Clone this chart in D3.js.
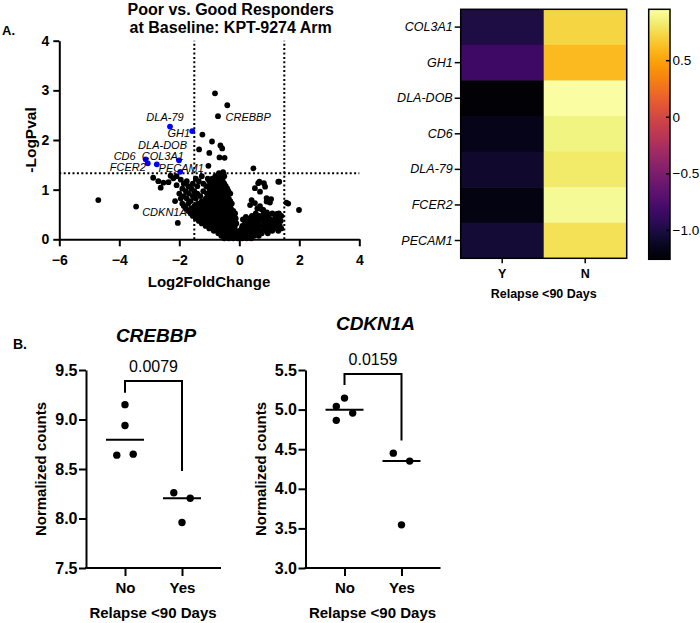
<!DOCTYPE html>
<html><head><meta charset="utf-8">
<script src="https://cdn.jsdelivr.net/npm/d3@7"></script>
<style>body{margin:0;background:#fff}</style>
</head><body><svg id="c" width="700" height="623"></svg>
<script>
// ---------------- DATA ----------------
const volcanoTitle = ["Poor vs. Good Responders", "at Baseline: KPT-9274 Arm"];
const volcanoXTicks = [-6, -4, -2, 0, 2, 4];
const volcanoYTicks = [0, 1, 2, 3, 4];
const lfcCutoffs = [-1.5, 1.5];
const pvalCutoff = 1.33;
// highlighted (blue) genes
const blueGenes = ["DLA-79", "GH1", "DLA-DOB", "COL3A1", "CD6", "FCER2", "PECAM1"];
const blueLFC   = [-2.31, -1.57, -2.01, -2.75, -3.12, -3.05, -1.97];
const blueLogP  = [2.27, 2.18, 1.59, 1.51, 1.61, 1.53, 1.36];
// labelled black genes
const blackGenes = ["CREBBP", "CDKN1A"];
const blackLFC   = [-0.71, -2.05];
const blackLogP  = [2.48, 0.33];
// all other genes [log2FC, -logP]
const volcanoPoints = [
[-4.70,0.79],[-3.44,0.66],[-2.14,0.77],[-0.81,2.94],[-0.40,2.70],[-1.23,2.11],[-0.91,1.97],[-1.34,1.81],
[-0.63,1.89],[-0.57,1.83],[-1.00,1.74],[-0.66,1.65],[-0.49,1.64],[-1.03,1.48],[0.47,1.43],[-0.54,1.35],
[1.33,1.16],[1.63,0.72],[1.99,0.59],[0.67,1.16],[0.82,1.13],[0.52,1.03],[0.91,0.83],[1.06,0.81],[1.25,0.51],
[1.33,0.48],[0.41,0.79],[0.52,0.73],[0.69,0.67],[0.80,0.59],[0.97,0.49],[1.08,0.39],[1.19,0.25],[0.92,0.54],
[0.72,0.40],[0.85,0.27],[0.36,0.69],[1.02,0.74],[0.63,1.13],[0.86,1.06],[0.69,0.96],[1.30,1.16],[1.57,0.74],
[0.91,0.76],[0.60,0.62],[0.75,0.60],
[-2.87,1.24],[-2.70,1.17],[-2.53,1.14],[-2.36,1.15],[-2.20,1.23],[-2.09,1.27],[-2.29,1.28],[-2.62,1.04],
[-2.09,1.09],[-1.95,1.20],[-1.85,1.12],[-1.90,1.02],
[-0.50,0.02],[-0.35,0.02],[-0.20,0.02],[-0.05,0.02],[0.10,0.02],[0.25,0.02],[0.40,0.02],
[-0.60,0.07],[-0.45,0.07],[-0.30,0.07],[-0.15,0.07],[0.00,0.07],[0.15,0.07],[0.30,0.07],[0.50,0.07],[0.65,0.07],
[-0.70,0.12],[-0.55,0.12],[-0.40,0.12],[-0.25,0.12],[-0.10,0.12],[0.05,0.12],[0.20,0.12],[0.38,0.12],[0.55,0.12],[0.75,0.12],[0.95,0.12],
[-0.85,0.17],[-0.68,0.17],[-0.50,0.17],[-0.35,0.17],[-0.18,0.17],[0.00,0.17],[0.15,0.17],[0.32,0.17],[0.50,0.17],[0.70,0.17],[0.90,0.17],[1.10,0.17],[1.30,0.17],
[-1.00,0.22],[-0.82,0.22],[-0.64,0.22],[-0.48,0.22],[-0.32,0.22],[-0.16,0.22],[0.08,0.22],[0.25,0.22],[0.42,0.22],[0.62,0.22],[0.85,0.22],[1.05,0.22],[1.25,0.22],[1.40,0.22],
[-1.12,0.27],[-0.95,0.27],[-0.78,0.27],[-0.60,0.27],[-0.45,0.27],[-0.30,0.27],[-0.15,0.27],[0.10,0.27],[0.30,0.27],[0.50,0.27],[0.72,0.27],[0.95,0.27],[1.15,0.27],[1.35,0.27],
[-1.25,0.32],[-1.08,0.32],[-0.90,0.32],[-0.73,0.32],[-0.56,0.32],[-0.40,0.32],[-0.24,0.32],[-0.10,0.32],[0.20,0.32],[0.38,0.32],[0.60,0.32],[0.82,0.32],[1.02,0.32],[1.28,0.32],
[-1.35,0.37],[-1.18,0.37],[-1.00,0.37],[-0.83,0.37],[-0.66,0.37],[-0.50,0.37],[-0.34,0.37],[-0.18,0.37],[0.25,0.37],[0.45,0.37],[0.65,0.37],[0.88,0.37],[1.15,0.37],[1.38,0.37],
[-1.45,0.42],[-1.28,0.42],[-1.10,0.42],[-0.92,0.42],[-0.75,0.42],[-0.58,0.42],[-0.42,0.42],[-0.26,0.42],[-0.12,0.42],[0.35,0.42],[0.55,0.42],[0.78,0.42],[1.00,0.42],[1.25,0.42],
[-1.55,0.47],[-1.38,0.47],[-1.20,0.47],[-1.02,0.47],[-0.85,0.47],[-0.68,0.47],[-0.50,0.47],[-0.34,0.47],[-0.18,0.47],[0.42,0.47],[0.68,0.47],[0.92,0.47],[1.20,0.47],[1.40,0.47],
[-1.62,0.52],[-1.45,0.52],[-1.28,0.52],[-1.10,0.52],[-0.93,0.52],[-0.76,0.52],[-0.60,0.52],[-0.44,0.52],[-0.28,0.52],[-0.14,0.52],[0.55,0.52],[0.82,0.52],[1.10,0.52],[1.32,0.52],
[-1.70,0.57],[-1.52,0.57],[-1.35,0.57],[-1.18,0.57],[-1.00,0.57],[-0.84,0.57],[-0.68,0.57],[-0.52,0.57],[-0.36,0.57],[-0.20,0.57],
[-1.78,0.62],[-1.60,0.62],[-1.42,0.62],[-1.25,0.62],[-1.08,0.62],[-0.92,0.62],[-0.76,0.62],[-0.60,0.62],[-0.44,0.62],[-0.28,0.62],
[-1.85,0.67],[-1.50,0.67],[-1.30,0.67],[-1.12,0.67],[-0.96,0.67],[-0.80,0.67],[-0.64,0.67],[-0.48,0.67],[-0.32,0.67],
[-1.90,0.72],[-1.70,0.72],[-1.38,0.72],[-1.18,0.72],[-1.00,0.72],[-0.85,0.72],[-0.70,0.72],[-0.55,0.72],[-0.40,0.72],[-0.25,0.72],
[-1.62,0.77],[-1.25,0.77],[-1.05,0.77],[-0.90,0.77],[-0.75,0.77],[-0.60,0.77],[-0.45,0.77],[-0.30,0.77],
[-1.95,0.82],[-1.75,0.82],[-1.45,0.82],[-1.12,0.82],[-0.95,0.82],[-0.80,0.82],[-0.65,0.82],[-0.50,0.82],[-0.35,0.82],
[-1.85,0.87],[-1.55,0.87],[-1.30,0.87],[-1.00,0.87],[-0.85,0.87],[-0.70,0.87],[-0.55,0.87],[-0.40,0.87],
[-2.00,0.92],[-1.68,0.92],[-1.40,0.92],[-1.08,0.92],[-0.90,0.92],[-0.75,0.92],[-0.60,0.92],[-0.45,0.92],[-0.30,0.92],
[-1.78,0.97],[-1.50,0.97],[-1.20,0.97],[-0.95,0.97],[-0.80,0.97],[-0.65,0.97],[-0.50,0.97],[-0.36,0.97],
[-1.60,1.02],[-1.00,1.02],[-0.85,1.02],[-0.70,1.02],[-0.55,1.02],[-0.40,1.02],
[-1.70,1.07],[-1.40,1.07],[-1.10,1.07],[-0.90,1.07],[-0.75,1.07],[-0.60,1.07],[-0.45,1.07],
[-1.55,1.12],[-1.20,1.12],[-0.95,1.12],[-0.80,1.12],[-0.65,1.12],[-0.50,1.12],
[-1.75,1.17],[-1.35,1.17],[-1.00,1.17],[-0.85,1.17],[-0.70,1.17],[-0.55,1.17],
[-1.45,1.22],[-1.05,1.22],[-0.90,1.22],[-0.72,1.22],[-0.58,1.22],
[-1.25,1.27],[-0.80,1.27],[-0.62,1.27],[-0.50,1.27],
[-0.68,1.33],[-0.55,1.33],
[0.18,0.30],[0.30,0.36],[0.12,0.40],[0.22,0.45]
];

// heatmap
const hmGenes = ["COL3A1", "GH1", "DLA-DOB", "CD6", "DLA-79", "FCER2", "PECAM1"];
const hmGroups = ["Y", "N"];
const hmValuesY = [-1.00, -0.84, -1.24, -1.16, -1.08, -1.19, -1.05];
const hmValuesN = [0.72, 0.60, 0.94, 0.87, 0.82, 0.91, 0.77];
const colorDomain = [-1.26, 0.95];
const colorbarTicks = [0.5, 0, -0.5, -1.0];
const heatmapXLabel = "Relapse <90 Days";

// panel B
const groups = ["No", "Yes"];
const crebbpNo = [9.15, 8.94, 8.64, 8.65];
const crebbpYes = [8.26, 8.205, 7.96];
const crebbpNoJitter = [0, 0, -1, 1];
const crebbpYesJitter = [-1, 1, 0];
const crebbpTicks = [7.5, 8.0, 8.5, 9.0, 9.5];
const crebbpP = "0.0079";
const crebbpBracket = [9.39, 9.27, 8.48]; // top, left leg end, right leg end
const cdknNo = [5.145, 5.04, 4.956, 4.864];
const cdknYes = [4.45, 4.35, 3.545];
const cdknNoJitter = [0, -1, 1, -1];
const cdknYesJitter = [-1, 1, 0];
const cdknTicks = [3.0, 3.5, 4.0, 4.5, 5.0, 5.5];
const cdknP = "0.0159";
const cdknBracket = [5.45, 5.31, 4.61];

// ---------------- DRAWING ----------------
const FONT = "'Liberation Sans', Arial, Helvetica, sans-serif";
const svg = d3.select("#c").style("font-family", FONT);

function styleAxis(g, size, weight) {
  g.attr("font-family", FONT).attr("font-size", size);
  g.selectAll("path.domain").attr("stroke", "#000").attr("stroke-width", 2);
  g.selectAll(".tick line").attr("stroke", "#000").attr("stroke-width", 2);
  g.selectAll(".tick text").attr("fill", "#000").attr("font-weight", weight);
}
function text(g, x, y, s, o) {
  o = o || {};
  return g.append("text").attr("x", x).attr("y", y).text(s)
    .attr("font-size", o.size || 14).attr("font-weight", o.weight || "normal")
    .attr("font-style", o.style || "normal").attr("text-anchor", o.anchor || "start")
    .attr("fill", "#000");
}

// ===== Panel A: volcano =====
const vx = d3.scaleLinear().domain([-6, 4]).range([59.3, 359.3]);
const vy = d3.scaleLinear().domain([0, 4]).range([239.3, 40.7]);
const gA = svg.append("g");

text(gA, 2, 35, "A.", {size: 13, weight: "bold"});
volcanoTitle.forEach((t, i) => text(gA, 230.7, 15 + i * 18, t, {size: 16, weight: "bold", anchor: "middle"}));

// dotted cut-off lines
lfcCutoffs.forEach(c => gA.append("line").attr("x1", vx(c)).attr("x2", vx(c)).attr("y1", vy(0)).attr("y2", vy(4))
  .attr("stroke", "#000").attr("stroke-width", 2).attr("stroke-dasharray", "2,2.4"));
gA.append("line").attr("x1", vx(-6)).attr("x2", vx(4)).attr("y1", vy(pvalCutoff)).attr("y2", vy(pvalCutoff))
  .attr("stroke", "#000").attr("stroke-width", 2).attr("stroke-dasharray", "2,2.4");

const R = 2.9;
gA.append("g").selectAll("circle").data(volcanoPoints).join("circle")
  .attr("cx", d => vx(d[0])).attr("cy", d => vy(d[1])).attr("r", R).attr("fill", "#000");
gA.append("g").selectAll("circle").data(blackGenes).join("circle")
  .attr("cx", (d, i) => vx(blackLFC[i])).attr("cy", (d, i) => vy(blackLogP[i])).attr("r", R).attr("fill", "#000");
gA.append("g").selectAll("circle").data(blueGenes).join("circle")
  .attr("cx", (d, i) => vx(blueLFC[i])).attr("cy", (d, i) => vy(blueLogP[i])).attr("r", R).attr("fill", "#0000ff");

// gene labels (pixel offsets from their dot)
const labelOffsets = {
  "DLA-79": [-5, -6, "middle"], "GH1": [-2, 5.5, "end"], "DLA-DOB": [8, -11.5, "end"],
  "COL3A1": [6, -4, "middle"], "CD6": [-10, 1, "end"], "FCER2": [-2, 8, "end"],
  "PECAM1": [1, -0.2, "middle"], "CREBBP": [7.5, 4.5, "start"], "CDKN1A": [9, -7, "end"]
};
const gl = gA.append("g");
blueGenes.forEach((g, i) => {
  const o = labelOffsets[g];
  text(gl, vx(blueLFC[i]) + o[0], vy(blueLogP[i]) + o[1], g, {size: 11, style: "italic", anchor: o[2]});
});
blackGenes.forEach((g, i) => {
  const o = labelOffsets[g];
  text(gl, vx(blackLFC[i]) + o[0], vy(blackLogP[i]) + o[1], g, {size: 11, style: "italic", anchor: o[2]});
});

const axX = gA.append("g").attr("transform", `translate(0,${vy(0)})`)
  .call(d3.axisBottom(vx).tickValues(volcanoXTicks).tickSize(7).tickSizeOuter(0).tickPadding(9).tickFormat(d3.format("d")));
styleAxis(axX, 14, "bold");
const axY = gA.append("g").attr("transform", `translate(${vx(-6)},0)`)
  .call(d3.axisLeft(vy).tickValues(volcanoYTicks).tickSize(6).tickSizeOuter(0).tickPadding(4).tickFormat(d3.format("d")));
styleAxis(axY, 14, "bold");
text(gA, 209, 287, "Log2FoldChange", {size: 15, weight: "bold", anchor: "middle"});
text(gA, 0, 0, "-LogPval", {size: 15.5, weight: "bold", anchor: "middle"})
  .attr("transform", `translate(36,${vy(2)}) rotate(-90)`);

// ===== Heatmap =====
const color = d3.scaleSequential(d3.interpolateInferno).domain(colorDomain);
const hx = d3.scaleBand().domain(hmGroups).range([460.7, 626.7]);
const hy = d3.scaleBand().domain(hmGenes).range([9.3, 258.3]);
const gH = svg.append("g");
const cells = [];
hmGenes.forEach((g, i) => { cells.push({g, c: "Y", v: hmValuesY[i]}); cells.push({g, c: "N", v: hmValuesN[i]}); });
gH.selectAll("rect.cell").data(cells).join("rect").attr("class", "cell")
  .attr("x", d => hx(d.c)).attr("y", d => hy(d.g)).attr("width", hx.bandwidth() + 0.5).attr("height", hy.bandwidth() + 0.5)
  .attr("fill", d => color(d.v));
gH.append("rect").attr("x", 460.7).attr("y", 9.3).attr("width", 166).attr("height", 249)
  .attr("fill", "none").attr("stroke", "#000").attr("stroke-width", 1.5);
const hAxL = gH.append("g").attr("transform", "translate(460.7,0)")
  .call(d3.axisLeft(hy).tickSize(6).tickPadding(2).tickSizeOuter(0));
styleAxis(hAxL, 12.5, "normal");
hAxL.select("path.domain").remove();
hAxL.selectAll(".tick text").attr("font-style", "italic");
hAxL.selectAll(".tick line").attr("stroke-width", 1.5);
const hAxB = gH.append("g").attr("transform", "translate(0,258.3)")
  .call(d3.axisBottom(hx).tickSize(5).tickPadding(6).tickSizeOuter(0));
styleAxis(hAxB, 12.5, "bold");
hAxB.select("path.domain").remove();
hAxB.selectAll(".tick line").attr("stroke-width", 1.5);
text(gH, 543.7, 297.5, heatmapXLabel, {size: 12.5, weight: "bold", anchor: "middle"});

// colorbar
const cbY = d3.scaleLinear().domain(colorDomain).range([259.3, 9.3]);
const defs = svg.append("defs");
const grad = defs.append("linearGradient").attr("id", "cb").attr("x1", 0).attr("y1", 1).attr("x2", 0).attr("y2", 0);
d3.range(0, 1.0001, 0.05).forEach(t => grad.append("stop").attr("offset", t)
  .attr("stop-color", color(colorDomain[0] + t * (colorDomain[1] - colorDomain[0]))));
gH.append("rect").attr("x", 648.7).attr("y", 9.3).attr("width", 21.3).attr("height", 250)
  .attr("fill", "url(#cb)").attr("stroke", "#000").attr("stroke-width", 1.5);
const cbAx = gH.append("g").attr("transform", "translate(670,0)")
  .call(d3.axisRight(cbY).tickValues(colorbarTicks).tickSizeInner(-4).tickSizeOuter(0).tickPadding(2.5)
    .tickFormat(d => d === 0 ? "0" : d3.format(".1f")(d)));
styleAxis(cbAx, 13.5, "normal");
cbAx.select("path.domain").remove();
cbAx.selectAll(".tick line").attr("stroke-width", 1.5);

// ===== Panel B =====
text(svg, 13, 349, "B.", {size: 14, weight: "bold"});

function dotPanel(left, title, titleY, dom, ticks, noVals, yesVals, noJ, yesJ, bracket, pText) {
  const g = svg.append("g");
  const y = d3.scaleLinear().domain(dom).range([568, 370]);
  const x = d3.scalePoint().domain(groups).range([left + 39, left + 96]);
  text(g, left + 70, titleY, title, {size: 19, weight: "bold", style: "italic", anchor: "middle"});
  // axes
  const ay = g.append("g").attr("transform", `translate(${left},0)`)
    .call(d3.axisLeft(y).tickValues(ticks).tickSize(7).tickSizeOuter(0).tickPadding(1.5).tickFormat(d3.format(".1f")));
  styleAxis(ay, 16, "bold");
  g.append("line").attr("x1", left - 1).attr("x2", left + 135).attr("y1", 568).attr("y2", 568)
    .attr("stroke", "#000").attr("stroke-width", 2);
  const ax = g.append("g").attr("transform", `translate(0,568)`)
    .call(d3.axisBottom(x).tickSize(8).tickPadding(6).tickSizeOuter(0));
  styleAxis(ax, 15, "bold");
  ax.select("path.domain").remove();
  text(g, left + 67, 617.5, "Relapse <90 Days", {size: 15, weight: "bold", anchor: "middle"});
  text(g, 0, 0, "Normalized counts", {size: 15, weight: "bold", anchor: "middle"})
    .attr("transform", `translate(${left - 40},${y((dom[0] + dom[1]) / 2)}) rotate(-90)`);
  // points
  const J = 8.2;
  [[noVals, noJ, "No"], [yesVals, yesJ, "Yes"]].forEach(([vals, jit, grp]) => {
    g.append("g").selectAll("circle").data(vals).join("circle")
      .attr("cx", (d, i) => x(grp) + jit[i] * J).attr("cy", d => y(d)).attr("r", 3.7).attr("fill", "#000");
    const m = d3.median(vals);
    g.append("line").attr("x1", x(grp) - 19).attr("x2", x(grp) + 19).attr("y1", y(m)).attr("y2", y(m))
      .attr("stroke", "#000").attr("stroke-width", 2);
  });
  // bracket
  g.append("path").attr("d", `M${x("No")},${y(bracket[1])}V${y(bracket[0])}H${x("Yes")}V${y(bracket[2])}`)
    .attr("fill", "none").attr("stroke", "#000").attr("stroke-width", 2);
  text(g, (x("No") + x("Yes")) / 2, y(bracket[0]) - 9, pText, {size: 16, anchor: "middle"});
}
dotPanel(86, "CREBBP", 341.5, [7.5, 9.5], crebbpTicks, crebbpNo, crebbpYes, crebbpNoJitter, crebbpYesJitter, crebbpBracket, crebbpP);
dotPanel(305.5, "CDKN1A", 330, [3.0, 5.5], cdknTicks, cdknNo, cdknYes, cdknNoJitter, cdknYesJitter, cdknBracket, cdknP);
</script></body></html>
